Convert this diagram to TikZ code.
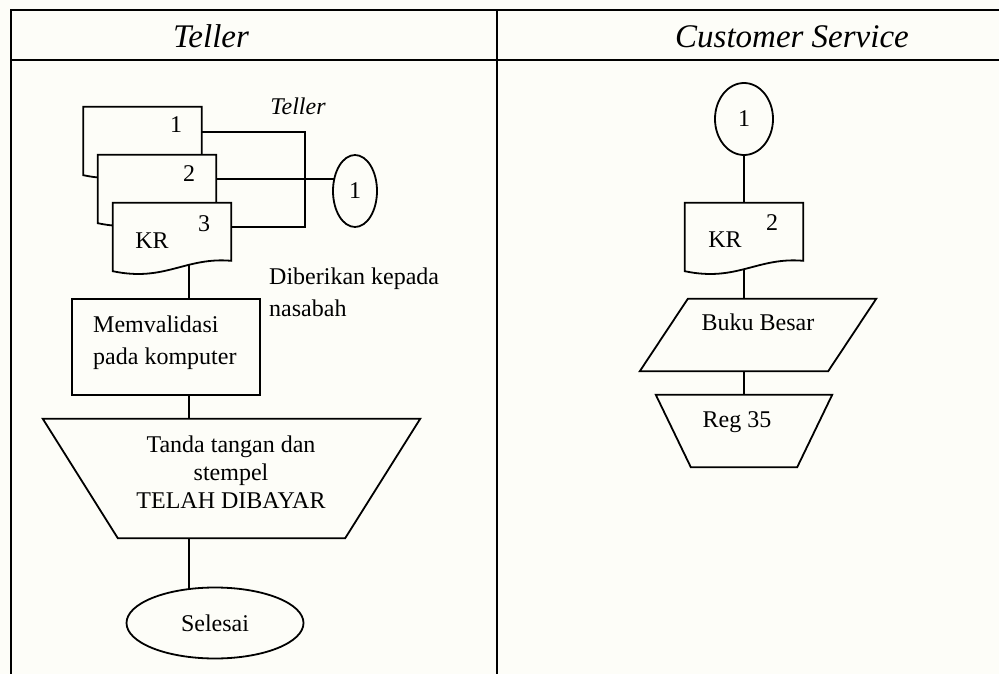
\documentclass[tikz,border=0pt]{standalone}
\usepackage{fontspec}
\setmainfont{Liberation Serif}
\usetikzlibrary{calc,shapes.geometric}

\definecolor{paper}{RGB}{253,253,248}

\pgfdeclarelayer{backdrop}
\pgfdeclarelayer{links}
\pgfdeclarelayer{outlines}
\pgfsetlayers{backdrop,links,outlines,main}

\tikzset{
  shapeline/.style={draw=black, line width=1.8pt},
  frameline/.style={draw=black, line width=2.6pt},
  txt/.style={font=\fontsize{24}{28}\selectfont, inner sep=0pt},
  hdr/.style={font=\fontsize{33}{36}\selectfont\itshape, inner sep=0pt, anchor=base},
  holder/.style={rectangle, inner sep=0pt, minimum width=#1},
  docbox/.style={rectangle, inner sep=0pt, minimum width=118pt, minimum height=68pt},
  procbox/.style={shapeline, fill=paper, rectangle, inner sep=0pt, minimum width=188pt, minimum height=96pt},
  terminal/.style={shapeline, fill=paper, ellipse, inner sep=0pt, font=\fontsize{24}{28}\selectfont},
}

% document symbol: flat top, wavy bottom
\newcommand\docoutline[1]{%
  \path (#1.north east) ++(0,58) coordinate (#1-rb);
  \draw[shapeline, fill=paper] (#1.north west) -- (#1.north east) -- (#1-rb)
    .. controls ($(#1-rb)+(-46,-4)$) and ($(#1.south west)+(52,11)$) .. (#1.south west) -- cycle;}

% manual operation: wide top, narrower bottom
\newcommand\manualop[2]{%
  \draw[shapeline, fill=paper] (#1.north west) -- (#1.north east)
    -- ([xshift=-#2pt]#1.south east) -- ([xshift=#2pt]#1.south west) -- cycle;}

\begin{document}
\begin{tikzpicture}[x=1pt, y=-1pt]
\useasboundingbox (0,0) rectangle (999,674);
\begin{pgfonlayer}{backdrop}
  \fill[paper] (0,0) rectangle (999,674);
\end{pgfonlayer}

% swimlane frame
\draw[frameline] (999,10) -- (11,10) -- (11,674);
\draw[frameline] (11,60) -- (999,60);
\draw[frameline] (497,10) -- (497,674);
\node[hdr] (hteller) at (211,48) {Teller};
\node[hdr] (hcs) at (792,48) {Customer Service};

% ---------- Teller lane ----------
\node[docbox] (d1) at (142.5,141) {};
\node[docbox] (d2) at (157,189) {};
\node[docbox] (d3) at (172,237) {};
\begin{pgfonlayer}{outlines}
  \docoutline{d1}
  \docoutline{d2}
  \docoutline{d3}
\end{pgfonlayer}
\node[txt, anchor=base] (d1n) at (176,133) {1};
\node[txt, anchor=base] (d2n) at (189,182) {2};
\node[txt, anchor=base] (d3n) at (204,231) {3};
\node[txt, anchor=base] (d3t) at (152,248) {KR};

\node[txt, anchor=base, font=\fontsize{24}{28}\selectfont\itshape] (tl) at (298,115) {Teller};
\node[terminal, minimum width=44pt, minimum height=72pt] (c1) at (355,191) {1};

\node[txt, anchor=north west, align=left, font=\fontsize{24}{32}\selectfont] (give) at (269,268)
  {Diberikan kepada\\nasabah};

\node[procbox] (r1) at (166,347) {};
\node[txt, anchor=north west, align=left, font=\fontsize{24}{32}\selectfont] (r1t) at (93,316)
  {Memvalidasi\\pada komputer};

\node[holder=377pt, minimum height=119pt] (m1) at (231.5,478.5) {};
\begin{pgfonlayer}{outlines}
  \manualop{m1}{75}
\end{pgfonlayer}
\node[txt, anchor=north, align=center] (m1t) at (231,436)
  {Tanda tangan dan\\stempel\\TELAH DIBAYAR};

\node[terminal, minimum width=177pt, minimum height=71pt] (se) at (215,623) {Selesai};

% ---------- Customer Service lane ----------
\node[terminal, minimum width=58pt, minimum height=72pt] (c2) at (744,119) {1};
\node[docbox] (d4) at (744,237) {};
\begin{pgfonlayer}{outlines}
  \docoutline{d4}
\end{pgfonlayer}
\node[txt, anchor=base] (d4n) at (772,230) {2};
\node[txt, anchor=base] (d4t) at (725,247) {KR};

\node[holder=236pt, minimum height=72pt] (bk) at (758,335) {};
\begin{pgfonlayer}{outlines}
  \draw[shapeline, fill=paper] ([xshift=48pt]bk.north west) -- (bk.north east)
    -- ([xshift=-48pt]bk.south east) -- (bk.south west) -- cycle;
\end{pgfonlayer}
\node[txt] (bkt) at (758,322) {Buku Besar};

\node[holder=176pt, minimum height=72pt] (rg) at (744,431) {};
\begin{pgfonlayer}{outlines}
  \manualop{rg}{35}
\end{pgfonlayer}
\node[txt, anchor=base] (rgt) at (737,427) {Reg 35};

% ---------- connectors (drawn underneath the filled symbols) ----------
\coordinate (spl) at (189,0);
\coordinate (spr) at (744,0);
\begin{pgfonlayer}{links}
  \draw[shapeline] ([yshift=-25pt]d1.north east) -- ++(103,0) |- ([yshift=-24pt]d3.north east);
  \path ([yshift=-24pt]d2.north east) coordinate (d2o);
  \draw[shapeline] (d2o) -- (d2o -| c1);
  \draw[shapeline] (spl |- d3.center) -- (spl |- r1.center);
  \draw[shapeline] (spl |- r1.center) -- (spl |- m1.center);
  \draw[shapeline] (spl |- m1.center) -- (spl |- se.center);
  \draw[shapeline] (spr |- c2.center) -- (spr |- d4.center);
  \draw[shapeline] (spr |- d4.center) -- (spr |- bk.center);
  \draw[shapeline] (spr |- bk.center) -- (spr |- rg.center);
\end{pgfonlayer}
\end{tikzpicture}
\end{document}
